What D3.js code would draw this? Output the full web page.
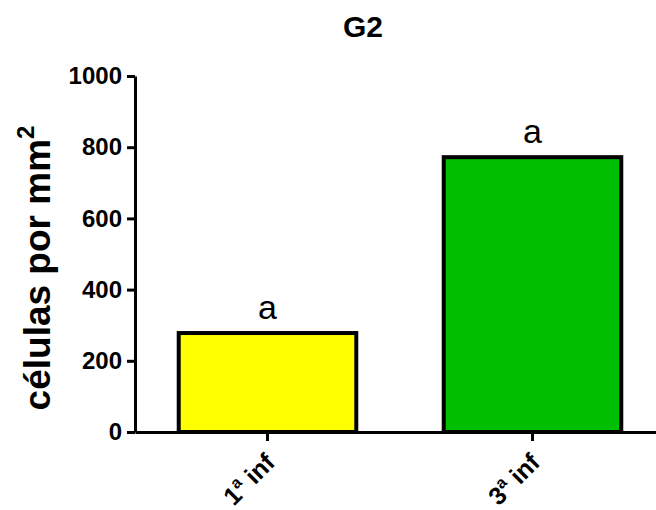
<!DOCTYPE html>
<html>
<head>
<meta charset="utf-8">
<script src="https://cdn.jsdelivr.net/npm/d3@7"></script>
<style>
  html, body { margin: 0; padding: 0; background: #fff; }
  svg { display: block; font-family: Arial, "Liberation Sans", Helvetica, sans-serif; }
</style>
</head>
<body>
<svg id="chart" width="656" height="510"></svg>
<script>
// Cell density per group
const categories = ["1", "3"];
const values = [278, 772];
const letters = ["a", "a"];
const colors = ["#ffff00", "#00bf00"];
const yTicks = [0, 200, 400, 600, 800, 1000];

const svg = d3.select("#chart");
const x0 = 135, x1 = 665, yTop = 76, yBottom = 432;
const font = "Arial, 'Liberation Sans', Helvetica, sans-serif";

const x = d3.scaleBand()
  .domain(categories)
  .range([x0, x1])
  .paddingInner(0.33)
  .paddingOuter(0.165);

const y = d3.scaleLinear().domain([0, 1000]).range([yBottom, yTop]);

// Title
svg.append("text")
  .attr("x", 363).attr("y", 37)
  .attr("text-anchor", "middle")
  .attr("font-size", 30).attr("font-weight", "bold")
  .text("G2");

// Y axis title with superscript
const yl = svg.append("text")
  .attr("transform", `translate(50,${(yTop + yBottom) / 2 + 14}) rotate(-90)`)
  .attr("text-anchor", "middle")
  .attr("font-size", 37).attr("font-weight", "bold");
yl.append("tspan").text("células por mm");
yl.append("tspan").attr("dy", -16).attr("font-size", 24).text("2");

// Bars
svg.selectAll("rect.bar")
  .data(values)
  .join("rect")
  .attr("class", "bar")
  .attr("x", (d, i) => x(categories[i]))
  .attr("width", x.bandwidth())
  .attr("y", d => y(d))
  .attr("height", d => y(0) - y(d))
  .attr("fill", (d, i) => colors[i])
  .attr("stroke", "#000")
  .attr("stroke-width", 4);

// Significance letters
svg.selectAll("text.letter")
  .data(values)
  .join("text")
  .attr("class", "letter")
  .attr("x", (d, i) => x(categories[i]) + x.bandwidth() / 2)
  .attr("y", d => y(d) - 14)
  .attr("text-anchor", "middle")
  .attr("font-size", 34)
  .text((d, i) => letters[i]);

// Y axis
const yAxis = svg.append("g")
  .attr("transform", `translate(${x0},0)`)
  .call(d3.axisLeft(y).tickValues(yTicks).tickFormat(d3.format("d"))
    .tickSize(8).tickPadding(5).tickSizeOuter(0));
yAxis.select(".domain").attr("stroke-width", 3);
yAxis.selectAll(".tick line").attr("stroke-width", 3);
yAxis.selectAll(".tick text")
  .attr("font-size", 24).attr("font-weight", "bold")
  .attr("font-family", font)
  .attr("fill", "#000");

// X axis
const xAxis = svg.append("g")
  .attr("transform", `translate(0,${yBottom})`)
  .call(d3.axisBottom(x).tickSize(9).tickSizeOuter(0).tickFormat(""));
xAxis.select(".domain").attr("stroke-width", 3);
xAxis.selectAll(".tick line").attr("stroke-width", 3);

// Rotated category labels
const xl = svg.selectAll("text.xlab")
  .data(categories)
  .join("text")
  .attr("class", "xlab")
  .attr("transform", d => `translate(${x(d) + x.bandwidth() / 2 + 9},${yBottom + 32}) rotate(-45)`)
  .attr("text-anchor", "end")
  .attr("font-size", 25).attr("font-weight", "bold");
xl.append("tspan").text(d => d);
xl.append("tspan").attr("dy", -10).attr("font-size", 16).text("a");
xl.append("tspan").attr("dy", 10).text(" inf");
</script>
</body>
</html>
